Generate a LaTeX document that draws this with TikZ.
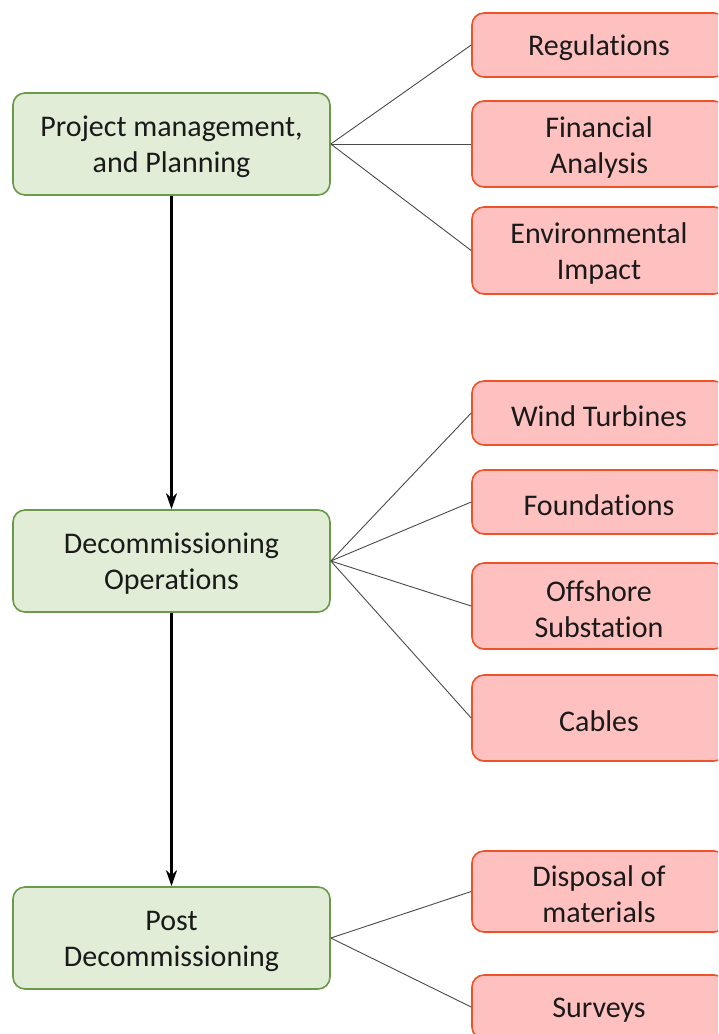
\documentclass[tikz,border=0pt]{standalone}
\usepackage{fontspec}
\setmainfont{Carlito}[Ligatures={NoCommon}]
\usetikzlibrary{arrows.meta}
\definecolor{phasefill}{HTML}{E1EDD6}
\definecolor{phasedraw}{HTML}{6A9A4A}
\definecolor{taskfill}{HTML}{FFC0C0}
\definecolor{taskdraw}{HTML}{EE5228}
\definecolor{linkgray}{HTML}{4A4A4A}
\definecolor{labeltext}{HTML}{1A1A1A}
\tikzset{
  phase/.style={draw=phasedraw, fill=phasefill, line width=1.6pt, rounded corners=12pt,
    minimum width=317pt, minimum height=102pt, inner sep=0pt},
  task/.style={draw=taskdraw, fill=taskfill, line width=1.6pt, rounded corners=12pt,
    minimum width=254pt, inner sep=0pt},
  caption/.style={align=center, inner sep=0pt, yshift=-3pt,
    font=\fontsize{30}{36}\selectfont, text=labeltext},
  link/.style={draw=linkgray, line width=0.9pt},
  flow/.style={draw=black, line width=2.6pt, -{Stealth[length=16pt,width=11pt,inset=5pt]}},
}
\begin{document}
\begin{tikzpicture}[x=1pt, y=-1pt]
\clip (0,0) rectangle (718,1034);
\fill[white] (0,0) rectangle (718,1034);

% phases on the left
\node[phase] (pm)   at (171.5,144) {};
\node[phase] (ops)  at (171.5,561) {};
\node[phase] (post) at (171.5,938) {};
\node[caption] (pmT)   at (pm)   {Project management,\\and Planning};
\node[caption] (opsT)  at (ops)  {Decommissioning\\Operations};
\node[caption] (postT) at (post) {Post\\Decommissioning};

% tasks on the right
\node[task, minimum height=64pt] (reg)  at (599,45)    {};
\node[task, minimum height=86pt] (fin)  at (599,144)   {};
\node[task, minimum height=87pt] (env)  at (599,250.5) {};
\node[task, minimum height=64pt] (wind) at (599,413)   {};
\node[task, minimum height=64pt] (fnd)  at (599,502)   {};
\node[task, minimum height=86pt] (sub)  at (599,606)   {};
\node[task, minimum height=86pt] (cab)  at (599,718)   {};
\node[task, minimum height=81pt] (disp) at (599,891.5) {};
\node[task, minimum height=64pt] (surv) at (599,1007)  {};
\node[caption] (regT)  at (reg)  {Regulations};
\node[caption] (finT)  at (fin)  {Financial\\Analysis};
\node[caption] (envT)  at (env)  {Environmental\\Impact};
\node[caption] (windT) at (wind) {Wind Turbines};
\node[caption] (fndT)  at (fnd)  {Foundations};
\node[caption] (subT)  at (sub)  {Offshore\\Substation};
\node[caption] (cabT)  at (cab)  {Cables};
\node[caption] (dispT) at (disp) {Disposal of\\materials};
\node[caption] (survT) at (surv) {Surveys};

% links from each phase to its tasks
\foreach \t in {reg,fin,env} \draw[link] (pm.east) -- (\t.west);
\foreach \t in {wind,fnd,sub,cab} \draw[link] (ops.east) -- (\t.west);
\foreach \t in {disp,surv} \draw[link] (post.east) -- (\t.west);

% main sequence
\draw[flow] (pm.south) -- (ops.north);
\draw[flow] (ops.south) -- (post.north);
\end{tikzpicture}
\end{document}
